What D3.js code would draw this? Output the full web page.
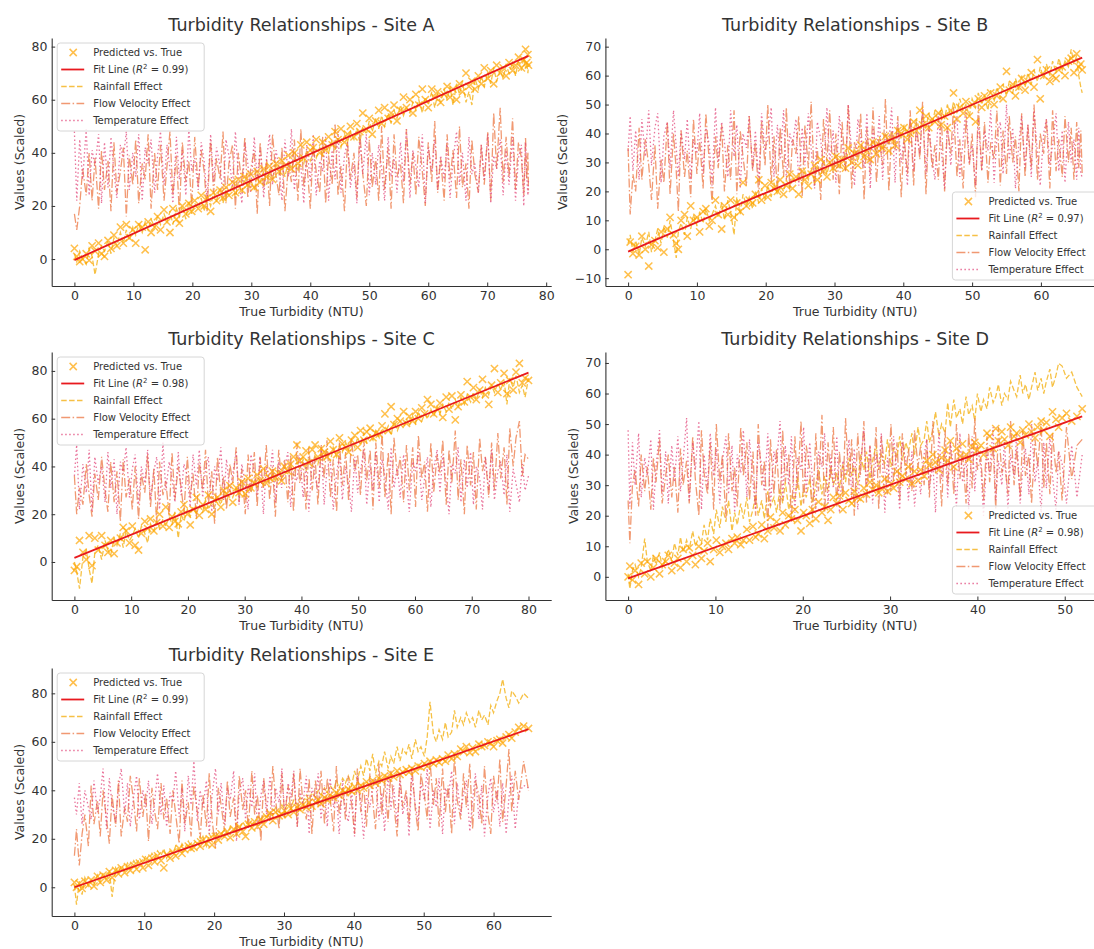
<!DOCTYPE html>
<html>
<head>
<meta charset="utf-8">
<script src="https://cdn.jsdelivr.net/npm/d3@7"></script>
<style>
  body { margin: 0; background: #fff; }
  svg { display: block; font-family: "DejaVu Sans", sans-serif; }
</style>
</head>
<body>
<svg id="fig" width="1094" height="949"></svg>
<script>
// ---- Site A ----
const trueA = [0.0,0.4,0.9,1.4,2.0,2.5,3.0,3.5,4.1,4.6, 5.1,5.7,6.2,6.7,7.2,7.8,8.3,8.8,9.3,9.9,
  10.4,10.9,11.5,12.0,12.5,13.0,13.6,14.1,14.6,15.2, 15.7,16.2,16.7,17.3,17.8,18.3,18.9,19.4,19.9,20.4,
  21.0,21.5,22.0,22.5,23.1,23.6,24.1,24.7,25.2,25.7, 26.2,26.8,27.3,27.8,28.4,28.9,29.4,29.9,30.5,31.0,
  31.5,32.1,32.6,33.1,33.6,34.2,34.7,35.2,35.7,36.3, 36.8,37.3,37.9,38.4,38.9,39.4,40.0,40.5,41.0,41.6,
  42.1,42.6,43.1,43.7,44.2,44.7,45.2,45.8,46.3,46.8, 47.4,47.9,48.4,48.9,49.5,50.0,50.5,51.1,51.6,52.1,
  52.6,53.2,53.7,54.2,54.7,55.3,55.8,56.3,56.9,57.4, 57.9,58.4,59.0,59.5,60.0,60.6,61.1,61.6,62.1,62.7,
  63.2,63.7,64.2,64.8,65.3,65.8,66.4,66.9,67.4,67.9, 68.5,69.0,69.5,70.1,70.6,71.1,71.6,72.2,72.7,73.2,
  73.7,74.3,74.8,75.3,75.8,76.2,76.5,76.7,76.9,77.0];
const predA = [4,1,-1,0,2,-0.5,5,3,6,2, 1,7,4,9,5,12,6,13,8,11,
  6,13,12,3.5,14,10,12,16,11,18.5, 14,10,19,15,13.5,20,17,21,18,22,
  19,24,20,23,18,25,22,26,23,27, 24,29,25,30,26,31,28,32,27,33,
  29,34,31,35,30,36,33,37,35,39, 34,40,36,43,38,44,41,42,45,40,
  44,41,46,43,48,45,49,44,47,50, 46,51,48,55,49,53,47,52,56,51,
  57,53,55,58,52,56,61,57,60,55, 62,58,64,60,57,64,61,63,59,62,
  65,61,64,60,66,63,70,65,67,64, 69,66,72,68,71,66,73,70,72,69,
  74,71,73,76,72,75,79,74,77,73];
const rainA = [2,-1,3,0,-2,4,1,-5.9,2,5, 3,7,2,8,5,10,6,11,7,12,
  9,13,10,14,11,15,12,16,13,17, 14,18,13,19,16,20,15,22,17,21,
  19,23,18,24,20,25,22,27,21,26, 24,28,23,29,25,31,27,30,26,32,
  29,33,28,34,30,36,32,35,31,37, 34,38,33,39,36,41,37,40,38,42,
  39,43,40,45,41,46,42,47,44,48, 45,49,44,50,47,52,48,53,49,54,
  50,55,51,56,53,58,54,57,55,59, 56,60,55,61,58,63,57,62,59,64,
  60,65,58,66,62,67,59,63,58,68, 64,69,65,70,66,72,67,71,68,73,
  70,74,69,75,71,76,72,74,70,73];
const flowA = [17,11,20,34,24,40,22,38,19,41, 26,37,18,44,25,33,42,16,39,28,
  45,21,36,30,47,19,40,26,43,22, 35,48,24,39,17,44,29,37,20,46,
  27,41,33,18,45,25,38,30,48,21, 36,43,19,40,28,46,23,34,41,17,
  44,26,38,20,47,31,24,42,18,36, 29,45,22,49,27,37,19,43,33,25,
  46,21,39,28,51,24,35,18,44,30, 40,23,48,32,20,45,27,38,22,50,
  26,42,19,47,31,36,21,49,28,40, 24,46,33,20,44,29,52,25,38,22,
  47,30,41,23,50,27,36,19,45,32, 25,43,28,48,22,55,34,57,29,46,
  31,53,26,44,38,24,46,30,40,25];
const tempA = [48,22,45,30,49,24,41,35,47,21, 44,27,46,33,23,43,38,48,26,40,
  31,47,22,42,36,45,25,39,48,28, 43,34,21,46,30,41,24,49,33,38,
  26,44,37,22,47,29,42,35,23,45, 39,27,48,32,21,44,36,25,46,30,
  42,23,38,47,28,41,34,22,45,31, 49,26,40,35,21,43,29,47,24,37,
  33,46,22,41,30,48,25,39,44,27, 36,21,45,32,47,24,40,28,43,34,
  22,46,31,38,25,44,29,49,23,41, 35,27,47,21,42,33,45,26,39,30,
  44,23,37,48,28,40,22,46,32,36, 25,43,30,47,21,39,34,45,24,41,
  28,46,22,38,43,20,44,31,24,30];

// ---- Site B ----
const trueB = [0.0,0.3,0.7,1.1,1.6,2.0,2.5,3.0,3.4,3.9, 4.3,4.8,5.2,5.7,6.1,6.6,7.0,7.3,7.7,8.2,
  8.6,9.1,9.5,10.0,10.4,10.9,11.3,11.8,12.2,12.7, 13.1,13.6,14.0,14.5,14.9,15.4,15.8,16.3,16.7,17.2,
  17.6,18.1,18.5,19.0,19.4,19.9,20.3,20.8,21.2,21.7, 22.1,22.6,23.0,23.5,23.9,24.4,24.8,25.3,25.7,26.2,
  26.6,27.1,27.5,28.0,28.4,28.9,29.3,29.8,30.2,30.7, 31.1,31.6,32.0,32.5,32.9,33.4,33.8,34.3,34.7,35.2,
  35.6,36.1,36.5,37.0,37.4,37.9,38.3,38.8,39.2,39.7, 40.1,40.6,41.0,41.5,41.9,42.4,42.8,43.3,43.7,44.2,
  44.6,45.1,45.5,46.0,46.4,46.9,47.3,47.8,48.2,48.7, 49.1,49.6,50.0,50.5,50.9,51.4,51.8,52.3,52.7,53.2,
  53.6,54.1,54.5,55.0,55.4,55.9,56.3,56.8,57.2,57.7, 58.1,58.6,59.0,59.5,59.9,60.4,60.8,61.3,61.7,62.2,
  62.6,63.1,63.5,64.0,64.4,64.8,65.2,65.5,65.8,66.0];
const predB = [-8.8,2.5,-1.5,1,-2,4.5,0,-5.8,1.5,3, 0.5,6,-1,7,11,5,2,0,10,12,
  4.5,15,10,11,6,13,14,8,10,17, 12,7,15,12,17,11,16,13,23,15,
  17,16,19,24,17,22,18,23,21,20, 24,19,22,26,21,25,19,27,24,22,
  26,29,24,31,27,25,30,28,32,29, 31,28,35,30,33,29,36,32,34,31,
  37,33,36,35,39,34,38,36,41,40, 42,38,40,44,41,48,43,46,42,45,
  44,47,43,46,42,48,54,45,49,47, 51,46,50,44,52,49,53,51,54,50,
  53,56,52,61.5,55,57,53,56,59,55, 58,61,56,65.5,52,60,62,58,60,59,
  62,63,60,65,66,61,67.5,63,64,62];
const rainB = [2,5,-1,3,-2,4,1,6,-1,3, 7,2,8,4,10,3,-3,6,9,5,
  11,7,12,8,13,9,14,10,12,15, 11,16,10,17,13,5,18,12,19,15,
  18,14,20,16,21,17,22,18,23,19, 22,20,24,21,25,23,26,22,27,24,
  28,23,29,25,31,26,30,27,33,28, 32,29,34,31,35,30,36,32,37,34,
  38,33,39,35,40,36,41,37,42,38, 43,39,44,40,45,41,46,42,47,43,
  48,44,49,45,50,46,51,47,52,48, 50,46,52,49,54,50,53,48,55,51,
  56,52,57,53,58,54,59,55,60,56, 61,57,62,58,63,59,64,60,65,61,
  66,62,65,63,69.1,64,67,60,56,54];
const flowB = [35,12,26,20,42,24,38,29,17,36, 14,31,23,44,19,40,27,13,41,25,
  34,18,45,26,38,21,47,30,16,39, 28,43,20,36,24,48,19,41,32,22,
  46,27,37,18,44,29,50,23,39,20, 42,25,49,21,38,33,46,18,43,28,
  51,22,35,17,45,30,48,24,40,19, 44,27,50,21,37,32,47,17,42,26,
  49,23,38,29,52,20,41,34,46,18, 39,26,48,22,44,31,51,19,43,28,
  36,24,47,20,42,33,49,25,38,21, 45,29,40,18,50,27,44,23,37,31,
  48,22,41,26,46,30,39,20,47,25, 43,28,50,24,40,33,45,21,48,27,
  38,25,46,30,42,24,44,28,41,26];
const tempB = [34,46,27,41,24,45,32,48,29,42, 47,23,39,44,28,48,35,25,41,31,
  45,24,38,33,47,26,42,36,22,49, 30,44,37,25,48,32,43,21,40,35,
  46,28,41,23,47,34,38,49,25,43, 31,48,24,40,36,45,22,42,29,47,
  35,21,44,38,26,49,30,41,23,46, 37,27,50,33,22,45,39,28,47,21,
  42,32,46,24,40,36,49,23,44,30, 38,22,45,27,41,33,48,26,43,31,
  24,47,35,21,44,29,40,46,25,38, 49,30,36,22,45,27,41,34,48,23,
  39,44,26,50,31,42,21,37,46,28, 43,25,48,33,22,40,45,29,36,47,
  27,41,23,44,30,38,24,42,26,25];

// ---- Site C ----
const trueC = [0.0,0.4,0.9,1.5,2.1,2.6,3.1,3.6,4.2,4.8, 5.4,5.9,6.4,7.0,7.5,8.1,8.6,9.1,9.7,10.2,
  10.7,11.3,11.8,12.4,12.9,13.4,14.0,14.5,15.0,15.6, 16.1,16.7,17.2,17.7,18.3,18.8,19.3,19.9,20.4,20.9,
  21.5,22.0,22.6,23.1,23.6,24.2,24.7,25.2,25.8,26.3, 26.8,27.4,27.9,28.5,29.0,29.5,30.1,30.6,31.1,31.7,
  32.2,32.7,33.3,33.8,34.4,34.9,35.4,36.0,36.5,37.0, 37.6,38.1,38.6,39.2,39.7,40.3,40.8,41.3,41.9,42.4,
  42.9,43.5,44.0,44.5,45.1,45.6,46.2,46.7,47.2,47.8, 48.3,48.8,49.4,49.9,50.4,51.0,51.5,52.1,52.6,53.1,
  53.7,54.2,54.7,55.3,55.8,56.3,56.9,57.4,58.0,58.5, 59.0,59.6,60.1,60.6,61.2,61.7,62.2,62.8,63.3,63.9,
  64.4,64.9,65.5,66.0,66.5,67.1,67.6,68.1,68.7,69.2, 69.8,70.3,70.8,71.4,71.9,72.4,73.0,73.5,74.0,74.6,
  75.1,75.7,76.2,76.7,77.3,77.8,78.4,78.9,79.4,80.0];
const predC = [-3.5,-2,9,4,1,11,-1.5,10,5,11, 7,4,9,3.5,8,10,14.5,13,8,15,
  7,5,12,17,14,18,13,16.5,20,15, 23,14.5,19,17,16,21,24,20,15.5,22,
  27,19.5,24,22,28,20,26,27,23,30, 28.5,32,25,31,29,33.5,28.5,35,31,33,
  36.5,34,39,33,35,38,35.5,37,34,40, 38,41,44,49,42.5,44,46.5,41.5,47,49,
  44,47.5,46,44,50.5,47,45,52,49.5,48, 46,51,53,48,55,51,54.5,56,52,54,
  53.5,57,62,55,65,57.5,60,59,63,58, 61,59,63,60,64.5,62,68,66,62,64,
  66.5,60.5,69,64,69.5,59.5,65,70,67,75.5, 69,73,68,72,76.5,70,66,74,81,71,
  75,79,70.5,76,72,79.5,83.2,75,77,76];
const rainC = [0,-4,-11.2,2,5,-3,-9,4,7,1, 9,5,3,10,7,12,6,13,9,11,
  14,10,15,12,8,16,13,17,14,18, 15,19,16,21,10,20,17,22,19,23,
  20,24,21,26,22,25,23,27,24,29, 25,30,27,31,28,33,26,32,29,34,
  31,35,32,37,33,36,34,39,35,38, 37,41,36,42,39,43,38,44,40,45,
  41,46,43,47,42,48,44,49,46,50, 47,51,48,52,49,54,50,53,51,55,
  52,56,54,57,53,59,55,58,56,60, 57,61,58,63,59,62,60,64,61,65,
  62,66,63,67,64,68,65,69,66,70, 67,71,68,72,69,73,70,74,71,75,
  72,76,66,77,73,78,71,74,69,77];
const flowC = [36,20,31,24,41,28,19,37,26,44, 30,21,42,25,38,17,43,27,35,22,
  40,18,37,29,45,23,39,16,42,28, 34,19,46,26,40,31,21,44,27,37,
  18,42,30,47,24,38,16,44,28,36, 22,41,33,48,25,39,20,45,29,46,
  23,44,31,49,26,40,19,47,34,43, 25,45,21,50,33,42,22,48,30,44,
  24,49,35,51,27,43,21,50,32,46, 26,52,38,45,28,51,34,47,22,50,
  31,54,27,46,20,52,36,44,25,49, 30,48,23,53,35,42,21,50,29,45,
  37,51,24,47,33,55,26,43,20,49, 32,46,22,52,38,44,27,50,30,54,
  35,48,24,56,40,52,59,36,45,43];
const tempC = [36,49,22,41,29,47,21,44,33,40, 25,46,31,43,20,42,37,48,27,39,
  45,24,40,33,47,26,38,44,22,50, 30,42,35,25,46,28,41,36,23,45,
  32,47,27,39,44,21,40,34,48,26, 43,29,37,46,24,41,33,22,45,38,
  28,44,20,40,35,47,25,42,31,39, 46,23,38,34,45,27,41,21,43,36,
  30,48,24,39,42,22,37,45,26,40, 33,21,44,29,38,47,24,41,30,46,
  25,43,36,22,48,31,40,27,45,34, 21,42,38,46,26,35,44,23,39,47,
  29,45,33,20,41,37,48,25,43,31, 46,24,40,35,22,44,30,47,26,38,
  42,28,45,21,39,33,25,41,30,36];

// ---- Site D ----
const trueD = [0.0,0.2,0.5,0.8,1.2,1.5,1.9,2.2,2.6,2.9, 3.2,3.6,3.9,4.3,4.6,5.0,5.3,5.7,6.0,6.3,
  6.7,7.0,7.4,7.7,8.1,8.4,8.7,9.1,9.4,9.8, 10.1,10.5,10.8,11.2,11.5,11.9,12.2,12.5,12.9,13.2,
  13.6,13.9,14.3,14.6,14.9,15.3,15.6,16.0,16.3,16.7, 17.0,17.4,17.7,18.0,18.4,18.7,19.1,19.4,19.8,20.1,
  20.4,20.8,21.1,21.5,21.8,22.2,22.5,22.9,23.2,23.5, 23.9,24.2,24.6,24.9,25.3,25.6,25.9,26.3,26.6,27.0,
  27.3,27.7,28.0,28.4,28.7,29.0,29.4,29.7,30.1,30.4, 30.8,31.1,31.4,31.8,32.1,32.5,32.8,33.2,33.5,33.9,
  34.2,34.5,34.9,35.2,35.6,35.9,36.3,36.6,36.9,37.3, 37.6,38.0,38.3,38.7,39.0,39.4,39.7,40.0,40.4,40.7,
  41.1,41.4,41.8,42.1,42.4,42.8,43.1,43.5,43.8,44.2, 44.5,44.9,45.2,45.5,45.9,46.2,46.6,46.9,47.3,47.6,
  47.9,48.3,48.6,49.0,49.3,49.7,50.2,50.8,51.4,52.0];
const predD = [0,3.5,-1,2,-2.5,4.5,1,5,0,3, 6,1,4,5,7,2,4.5,6,3,9,
  5,9.5,7,4,10,6,8.5,11,5,9, 12,8,10,11,9,12.5,11,13,10.5,12,
  15.5,12,16.5,13,14,17,12.5,15,19.5,16, 18,15,21,17,20,19,22,18.5,15,21,
  20,17.5,22,19,24.5,21,23,18.5,22,26, 24,26.5,22,27.5,25,24,28,26,25.5,29,
  27,31,28.5,30,27.5,29,32,28,30.5,29, 34.5,31,33,32,36,30.5,34.5,31.5,35,33,
  38,36.5,40,37.5,35,39,41.5,38,44.5,36, 42,39.5,43.5,40,38.5,42.5,44,41.5,43,40,
  47,46,42,48.5,44.5,47.5,45,43,49,46, 47,44,48,46.5,50,47.5,45.5,49,51,48,
  50.5,46,54,51.5,49,52,53.5,51,52.5,55];
const rainD = [1,-3.9,2,4,0,3,12.5,5,2,7, 4,8,3,6,9,5,11,7,13,8,
  12,9,15,10,13,11,17,12,19,14, 22,16,23,18,25,15,21,17,24,19,
  26,18,22,27,20,25,19,28,23,26, 21,29,24,31,22,27,25,33,23,29,
  26,32,24,30,35,27,33,28,36,30, 34,29,37,31,39,33,36,30,40,35,
  41,32,38,43,35,40,37,45,36,42, 39,46,38,44,41,47,40,49,43,45,
  51,44,48,54,46,50,47,57,49,58, 52,55,50,59,53,56,51,60,54,58,
  55,62,57,59,63,56,60,58,64,61, 59,66,60,63,58,62,67,61,65,60,
  64,68,62,66,69.9,69,65,67,62,59];
const flowD = [25,11,30,35,23,40,28,36,22,39, 31,45,24,33,40,26,36,21,42,30,
  38,24,46,32,20,48,34,27,44,22, 50,31,40,19,47,28,36,23,49,33,
  44,25,41,20,50,30,38,16,45,27, 42,22,48,31,40,18,46,29,51,24,
  43,35,19,47,28,53,21,44,32,49, 23,41,26,52,30,45,20,47,33,51,
  24,43,29,49,22,46,35,27,50,31, 44,25,47,33,42,28,48,36,43,30,
  45,26,51,34,40,23,48,30,44,27, 50,32,41,24,47,29,52,35,39,25,
  46,31,43,22,49,34,38,27,51,30, 42,26,48,33,40,24,45,36,50,29,
  44,27,47,34,41,25,49,32,43,45];
const tempD = [48,23,44,30,47,26,39,33,45,22, 36,48,27,41,24,43,31,46,28,38,
  52,25,44,35,51,22,40,29,47,33, 42,24,38,46,27,43,21,40,34,48,
  26,45,31,22,44,36,28,47,23,41, 37,51,25,43,30,46,21,39,35,49,
  27,44,32,22,41,36,47,24,40,29, 46,21,38,33,45,26,42,22,37,48,
  30,43,24,40,35,47,21,39,28,46, 33,22,44,38,25,41,23,36,27,40,
  45,29,37,21,48,32,42,26,44,35, 23,47,31,39,22,46,28,43,36,20,
  41,34,49,25,38,30,45,22,40,33, 47,24,36,42,27,50,31,38,21,44,
  29,46,33,22,41,37,24,43,26,40];

// ---- Site E ----
const trueE = [0.0,0.3,0.7,1.1,1.5,2.0,2.4,2.8,3.3,3.7, 4.1,4.6,5.0,5.4,5.9,6.3,6.7,7.2,7.6,8.0,
  8.5,8.9,9.3,9.8,10.2,10.6,11.1,11.5,11.9,12.4, 12.8,13.2,13.7,14.1,14.5,15.0,15.4,15.8,16.3,16.7,
  17.1,17.6,18.0,18.4,18.9,19.3,19.7,20.2,20.6,21.0, 21.5,21.9,22.3,22.8,23.2,23.6,24.1,24.5,24.9,25.4,
  25.8,26.2,26.7,27.1,27.5,28.0,28.4,28.8,29.3,29.7, 30.1,30.6,31.0,31.4,31.9,32.3,32.7,33.2,33.6,34.0,
  34.5,34.9,35.3,35.8,36.2,36.6,37.1,37.5,37.9,38.4, 38.8,39.2,39.7,40.1,40.5,41.0,41.4,41.8,42.3,42.7,
  43.1,43.6,44.0,44.4,44.9,45.3,45.7,46.2,46.6,47.0, 47.5,47.9,48.3,48.8,49.2,49.6,50.1,50.5,50.9,51.4,
  51.8,52.2,52.7,53.1,53.5,54.0,54.4,54.8,55.3,55.7, 56.1,56.6,57.0,57.4,57.9,58.3,58.7,59.2,59.6,60.0,
  60.5,60.9,61.3,61.8,62.2,62.6,63.1,63.6,64.3,65.0];
const predE = [2,0,1.5,-0.5,2.5,1,3,0.5,4.5,2, 5,3,6.5,4,7,5.5,8,6,8.5,7,
  9,7.5,10,8,11.5,9,12,10.5,13,11, 8,13.5,12,14.5,13,16,14,15.5,17,16,
  16.5,18,17,19.5,18,20,17.5,21,19.5,22, 21,23,20.5,24,22,25,23,21,26,24.5,
  27,25,28,26,29,30.5,27.5,31,29.5,30, 31.5,30,32.5,31,33,32,34,33,35,33.5,
  35,36,34.5,37,36,38,37,39,38,40, 39,40.5,39.5,41.5,40,42,41,43.5,42,44,
  43,45,44,46,45,47,45.5,48,46.5,47.5, 48.5,47.5,49,48,50,49.5,51,50,52,51,
  52.5,51.5,53,52,54.5,53,55,54,57,56, 58,55.5,57.5,56,59,58,58.5,60,59.5,58,
  60.5,61,59.5,62,63,61.5,64,66,66.5,65.5];
const rainE = [1,-7.2,2.5,-3,4,0.5,3,1,5,2, 6,3,7,-4,8,6,9,7,10,8,
  11,9,12,10,13,11,14,12,15,13, 16,12,15,14,17,15,18,16,19,17,
  18,20,19,21,17,22,20,23,21,22, 24,22,25,23,26,24,27,25,28,26,
  27,29,28,30,29,31,30,33,31,34, 32,35,33,36,34,37,35,38,36,39,
  37,40,38,41,39,42,40,44,41,45, 43,46,42,48,44,50,46,53,48,55,
  47,52,50,56,49,54,51,58,52,57, 55,59,53,61,56,58,54,62,76.5,63,
  60,65,61,68,62,64,73,66,70,67, 72,68,70,66,73,69,71,67,75,72,
  77,80,85.8,78,74,81,79,76,80,78];
const flowE = [13,24,9,22,30,17,42,26,36,21, 40,28,18,38,25,44,21,33,27,46,
  35,23,45,29,39,19,41,31,24,43, 28,37,22,40,30,18,44,26,35,21,
  42,31,20,38,25,47,28,16,41,34, 23,44,29,37,21,46,32,40,24,48,
  30,38,19,45,33,27,50,36,24,47, 29,42,31,47,25,49,35,28,45,22,
  44,33,48,26,45,37,23,50,30,41, 28,46,34,22,49,31,43,25,47,36,
  24,51,30,44,27,48,35,21,46,33, 40,26,50,32,23,47,38,28,52,34,
  45,25,49,31,42,22,55,36,28,47, 33,51,24,44,38,26,50,30,22,46,
  35,53,27,42,57,31,48,36,52,40];
const tempE = [37,30,43,26,40,33,28,44,31,37, 49,24,45,34,27,41,49,30,43,25,
  38,46,28,40,33,44,26,36,47,30, 42,25,39,35,48,29,41,23,46,34,
  52,27,40,33,44,22,38,49,30,43, 26,41,36,48,19,39,45,28,42,33,
  47,24,38,44,30,46,27,41,35,49, 29,43,37,48,25,40,34,46,22,41,
  36,47,28,42,25,45,33,39,22,44, 31,27,40,21,46,35,20,38,33,41,
  45,28,39,23,47,32,42,26,44,30, 38,21,46,34,27,43,36,49,24,40,
  33,45,22,41,37,48,26,43,30,39, 44,23,36,47,28,42,21,38,45,31,
  40,25,43,22,37,46,24,39,42,41];

// ---- fit coefficients, R² labels and ticks ----
const siteNames = ["A", "B", "C", "D", "E"];
const fitIntercepts = [-0.4, -0.8, 1.7, -0.5, 0.0];
const fitSlopes = [0.999, 1.015, 0.970, 1.020, 1.003];
const r2Values = ["0.99", "0.97", "0.98", "0.98", "0.99"];
const xTickSets = [
  [0, 10, 20, 30, 40, 50, 60, 70, 80],
  [0, 10, 20, 30, 40, 50, 60],
  [0, 10, 20, 30, 40, 50, 60, 70, 80],
  [0, 10, 20, 30, 40, 50],
  [0, 10, 20, 30, 40, 50, 60]
];
const yTickSets = [
  [0, 20, 40, 60, 80],
  [-10, 0, 10, 20, 30, 40, 50, 60, 70],
  [0, 20, 40, 60, 80],
  [0, 10, 20, 30, 40, 50, 60, 70],
  [0, 20, 40, 60, 80]
];
const seriesLabels = ["Predicted vs. True", "Fit Line", "Rainfall Effect", "Flow Velocity Effect", "Temperature Effect"];

const sites = [
  { x: trueA, pred: predA, rain: rainA, flow: flowA, temp: tempA },
  { x: trueB, pred: predB, rain: rainB, flow: flowB, temp: tempB },
  { x: trueC, pred: predC, rain: rainC, flow: flowC, temp: tempC },
  { x: trueD, pred: predD, rain: rainD, flow: flowD, temp: tempD },
  { x: trueE, pred: predE, rain: rainE, flow: flowE, temp: tempE }
];

// ---- layout & styles ----
const W = 499.5, H = 248;
const frames = [
  { left: 51.7, top: 38, legend: "ul" },
  { left: 605.4, top: 38, legend: "lr" },
  { left: 51.7, top: 352, legend: "ul" },
  { left: 605.4, top: 352, legend: "lr" },
  { left: 51.7, top: 668, legend: "ul" }
];
const TEXT = "#333333";
const C_PRED = "#ffa500", C_FIT = "#e8191e", C_RAIN = "#f5b625", C_FLOW = "#ee7f4f", C_TEMP = "#e2457a";
const DASH_RAIN = "5.5,2.4", DASH_FLOW = "9,2.4,1.5,2.4", DASH_TEMP = "1.5,2.5";
const LINE_W = 1.3;

const svg = d3.select("#fig");
svg.append("rect").attr("width", 1094).attr("height", 949).attr("fill", "#fff");

function crossPath(s) { return `M${-s},${-s}L${s},${s}M${-s},${s}L${s},${-s}`; }

sites.forEach((site, i) => {
  const f = frames[i];
  const g = svg.append("g").attr("transform", `translate(${f.left},${f.top})`);
  const idx = d3.range(site.x.length);

  const fitY = xv => fitIntercepts[i] + fitSlopes[i] * xv;
  const [x0, x1] = d3.extent(site.x);
  const allY = [].concat(site.pred, site.rain, site.flow, site.temp, [fitY(x0), fitY(x1)]);
  const [y0, y1] = d3.extent(allY);
  const px = (x1 - x0) * 0.05, py = (y1 - y0) * 0.05;

  const x = d3.scaleLinear().domain([x0 - px, x1 + px]).range([0, W]);
  const y = d3.scaleLinear().domain([y0 - py, y1 + py]).range([H, 0]);

  const clipId = "clip" + i;
  g.append("clipPath").attr("id", clipId).append("rect").attr("width", W).attr("height", H);
  const plot = g.append("g").attr("clip-path", `url(#${clipId})`);

  const line = key => d3.line().x(j => x(site.x[j])).y(j => y(site[key][j]))(idx);

  plot.append("path").attr("d", line("rain")).attr("fill", "none")
    .attr("stroke", C_RAIN).attr("stroke-width", LINE_W).attr("stroke-dasharray", DASH_RAIN).attr("opacity", 0.85);
  plot.append("path").attr("d", line("flow")).attr("fill", "none")
    .attr("stroke", C_FLOW).attr("stroke-width", LINE_W).attr("stroke-dasharray", DASH_FLOW).attr("opacity", 0.8);
  plot.append("path").attr("d", line("temp")).attr("fill", "none")
    .attr("stroke", C_TEMP).attr("stroke-width", LINE_W).attr("stroke-dasharray", DASH_TEMP).attr("opacity", 0.75);

  plot.append("g").selectAll("path").data(idx).join("path")
    .attr("transform", j => `translate(${x(site.x[j])},${y(site.pred[j])})`)
    .attr("d", crossPath(3.6)).attr("stroke", C_PRED).attr("stroke-width", 1.5)
    .attr("fill", "none").attr("opacity", 0.7);

  plot.append("line")
    .attr("x1", x(x0)).attr("y1", y(fitY(x0)))
    .attr("x2", x(x1)).attr("y2", y(fitY(x1)))
    .attr("stroke", C_FIT).attr("stroke-width", 1.8);

  // axes
  const xAxis = d3.axisBottom(x).tickValues(xTickSets[i]).tickFormat(d3.format("d"))
    .tickSizeInner(-3.5).tickSizeOuter(0).tickPadding(5);
  const yAxis = d3.axisLeft(y).tickValues(yTickSets[i]).tickFormat(d3.format("d"))
    .tickSizeInner(-3.5).tickSizeOuter(0).tickPadding(4.2);
  const gx = g.append("g").attr("transform", `translate(0,${H})`).call(xAxis);
  const gy = g.append("g").call(yAxis);
  [gx, gy].forEach(a => {
    a.attr("font-family", "DejaVu Sans").attr("font-size", 12.5);
    a.select(".domain").attr("stroke", TEXT).attr("stroke-width", 1.1);
    a.selectAll(".tick line").attr("stroke", TEXT);
    a.selectAll(".tick text").attr("fill", TEXT);
  });

  g.append("text").attr("x", W / 2).attr("y", H + 30).attr("text-anchor", "middle")
    .attr("font-size", 12.5).attr("fill", TEXT).text("True Turbidity (NTU)");
  const yb = gy.node().getBBox();
  g.append("text").attr("transform", `translate(${yb.x - 12},${H / 2}) rotate(-90)`)
    .attr("text-anchor", "middle").attr("dy", "0.35em")
    .attr("font-size", 12.5).attr("fill", TEXT).text("Values (Scaled)");
  g.append("text").attr("x", W / 2).attr("y", -7).attr("text-anchor", "middle")
    .attr("font-size", 17.5).attr("fill", TEXT).text("Turbidity Relationships - Site " + siteNames[i]);

  // legend
  const LW = 147, LH = 88;
  const lx = f.legend === "ul" ? 5.5 : W - 5.5 - LW;
  const ly = f.legend === "ul" ? 5 : H - 6 - LH;
  const lg = g.append("g").attr("transform", `translate(${lx},${ly})`);
  lg.append("rect").attr("width", LW).attr("height", LH).attr("rx", 3)
    .attr("fill", "#fff").attr("fill-opacity", 0.8).attr("stroke", "#d6d6d6").attr("stroke-width", 1);
  const handleStyles = [null, [C_FIT, null, 1, 1.8], [C_RAIN, DASH_RAIN, 0.85, LINE_W],
    [C_FLOW, DASH_FLOW, 0.8, LINE_W], [C_TEMP, DASH_TEMP, 0.75, LINE_W]];
  seriesLabels.forEach((lab, k) => {
    const cy = 9.5 + k * 17;
    if (k === 0) {
      lg.append("path").attr("transform", `translate(16,${cy})`).attr("d", crossPath(3.6))
        .attr("stroke", C_PRED).attr("stroke-width", 1.5).attr("opacity", 0.7);
    } else {
      const st = handleStyles[k];
      lg.append("line").attr("x1", 4).attr("x2", 27).attr("y1", cy).attr("y2", cy)
        .attr("stroke", st[0]).attr("stroke-dasharray", st[1]).attr("opacity", st[2]).attr("stroke-width", st[3]);
    }
    const t = lg.append("text").attr("x", 36).attr("y", cy + 3.6).attr("font-size", 10).attr("fill", TEXT);
    if (k === 1) {
      t.append("tspan").text(lab + " (");
      t.append("tspan").attr("font-style", "italic").text("R");
      t.append("tspan").attr("font-size", 7).attr("dy", -4).text("2");
      t.append("tspan").attr("dy", 4).text(" = " + r2Values[i] + ")");
    } else {
      t.text(lab);
    }
  });
});
</script>
</body>
</html>
